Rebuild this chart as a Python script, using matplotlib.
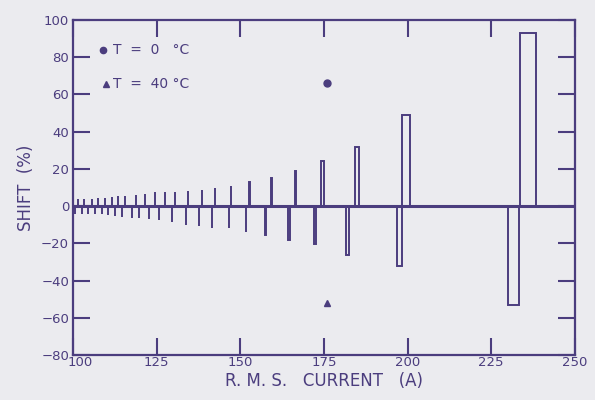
import numpy as np
import matplotlib.pyplot as plt
import matplotlib.transforms as mtransforms

# T = 0 C : positive shift
cur_0 = [101.3, 103.3, 105.5, 107.5, 109.5, 111.5, 113.5, 115.5, 118.7, 121.5,
         124.5, 127.5, 130.5, 134.3, 138.5, 142.5, 147.3, 152.7, 159.3, 166.5,
         174.5, 185.0, 199.5, 236.0]
shift_0 = [4, 4, 4, 4.5, 4.5, 5, 5.4, 5.5, 6, 6.5,
           7.5, 7.5, 7.5, 8, 8.7, 9.5, 11, 13, 15, 19,
           24, 32, 49, 93]

# T = 40 C : negative shift
cur_40 = [100.5, 102.5, 104.5, 106.5, 108.5, 110.5, 112.5, 114.5, 117.7, 119.7,
          122.7, 125.7, 129.7, 133.7, 137.5, 141.5, 146.5, 151.7, 157.5, 164.5,
          172.2, 182.0, 197.5, 231.7]
shift_40 = [-4.5, -4.5, -4.5, -4.5, -4.5, -5, -5.4, -6, -6.3, -6.5,
            -7, -7.6, -8.5, -10, -10.8, -11.5, -12, -14, -15.5, -18,
            -20.5, -26, -32, -53]

marker_0 = (176, 66)
marker_40 = (176, -52)

ink = '#4b3d7e'
bg = '#ebebef'

plt.rcParams['font.family'] = 'DejaVu Sans'

fig = plt.figure(figsize=(5.95, 4.0), dpi=100, facecolor=bg)
ax = fig.add_axes([0.123, 0.1125, 0.843, 0.8375], facecolor=bg)

# narrow ones are just strokes, big ones open boxes
for x, h in zip(cur_0, shift_0):
    w = max(0.0, 0.06 * (abs(h) - 12))
    ax.bar(x, h, width=w, fill=False, edgecolor=ink, linewidth=1.4)
for x, h in zip(cur_40, shift_40):
    w = max(0.0, 0.075 * (abs(h) - 12))
    ax.bar(x, h, width=w, fill=False, edgecolor=ink, linewidth=1.4)

ax.axhline(0, color=ink, linewidth=2.2, zorder=3)

ax.plot(*marker_0, 'o', color=ink, markersize=5)
ax.plot(*marker_40, '^', color=ink, markersize=5)

# key
ax.plot(0.06, 0.91, 'o', color=ink, markersize=4.5, transform=ax.transAxes, clip_on=False)
ax.plot(0.065, 0.81, '^', color=ink, markersize=4.5, transform=ax.transAxes, clip_on=False)
ax.text(0.08, 0.91, 'T  =  0   \u00b0C', transform=ax.transAxes, color=ink,
        fontsize=10, va='center')
ax.text(0.08, 0.81, 'T  =  40 \u00b0C', transform=ax.transAxes, color=ink,
        fontsize=10, va='center')

ax.set_xlim(100, 250)
ax.set_ylim(-80, 100)
ax.set_xticks([100, 125, 150, 175, 200, 225, 250])
ax.set_yticks(np.arange(-80, 101, 20))

ax.tick_params(direction='in', length=12, width=1.5, color=ink, labelcolor=ink,
               labelsize=9.5, top=True, right=True, pad=3)
ax.tick_params(axis='x', pad=1)
for s in ax.spines.values():
    s.set_color(ink)
    s.set_linewidth(1.6)

fig.canvas.draw()
first = ax.get_xticklabels()[0]
first.set_transform(first.get_transform() + mtransforms.ScaledTranslation(5 / 72, 0, fig.dpi_scale_trans))

ax.set_xlabel('R. M. S.   CURRENT   (A)', color=ink, fontsize=12, labelpad=2)
ax.set_ylabel('SHIFT  (%)', color=ink, fontsize=12, labelpad=4)

plt.savefig('out.png', dpi=100, facecolor=bg)
